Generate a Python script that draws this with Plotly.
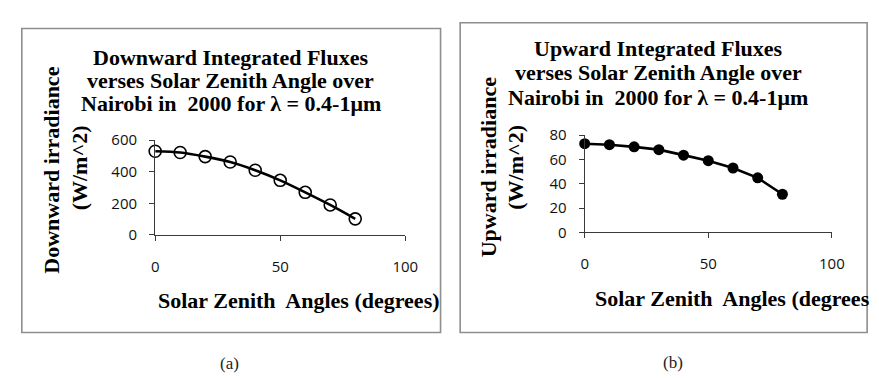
import plotly.graph_objects as go

W, H = 879, 378

# ---- data ----
zenith_angles = [0, 10, 20, 30, 40, 50, 60, 70, 80]
downward_irradiance = [530, 522, 496, 462, 410, 346, 270, 190, 102]
upward_irradiance = [73.0, 72.2, 70.4, 68.1, 63.6, 59.0, 53.0, 44.9, 31.4]

x_ticks = [0, 50, 100]
down_ticks = [0, 200, 400, 600]
up_ticks = [0, 20, 40, 60, 80]

title_a = ["Downward Integrated Fluxes",
           "verses Solar Zenith Angle over",
           "Nairobi in  2000 for λ = 0.4-1μm"]
title_b = ["Upward Integrated Fluxes",
           "verses Solar Zenith Angle over",
           "Nairobi in  2000 for λ = 0.4-1μm"]
ytitle_a = ["Downward irradiance", "(W/m^2)"]
ytitle_b = ["Upward irradiance", "(W/m^2)"]
xtitle_a = "Solar Zenith  Angles (degrees)"
xtitle_b = "Solar Zenith  Angles (degrees"


def px(x):
    return x / W


def py(y):
    return 1 - y / H


fig = go.Figure()

fig.add_trace(go.Scatter(
    x=zenith_angles, y=downward_irradiance, xaxis="x", yaxis="y",
    mode="lines+markers", line=dict(color="black", width=2.6, shape="spline", smoothing=0.8),
    marker=dict(symbol="circle-open", size=12, color="black", line=dict(width=1.6)),
    cliponaxis=False, showlegend=False))

fig.add_trace(go.Scatter(
    x=zenith_angles, y=upward_irradiance, xaxis="x2", yaxis="y2",
    mode="lines+markers", line=dict(color="black", width=2.6),
    marker=dict(symbol="circle", size=11, color="black"),
    cliponaxis=False, showlegend=False))

tickfont = dict(family="Open Sans", size=15, color="#111")
axis_common = dict(showline=True, linecolor="#3a3a3a", linewidth=1.2, ticks="outside",
                   ticklen=5, tickcolor="#3a3a3a", tickwidth=1.2, showgrid=False,
                   zeroline=False, tickfont=tickfont, fixedrange=True)

fig.update_layout(
    width=W, height=H, margin=dict(l=0, r=0, t=0, b=0),
    paper_bgcolor="white", plot_bgcolor="white",
    xaxis=dict(domain=[px(146), px(401)], range=[0, 100], tickvals=x_ticks,
               anchor="y", ticklabelstandoff=13, **axis_common),
    yaxis=dict(domain=[py(228), py(128)], range=[0, 600], tickvals=down_ticks,
               anchor="x", ticklabelstandoff=9, **axis_common),
    xaxis2=dict(domain=[px(584), px(836)], range=[0, 100], tickvals=x_ticks,
                anchor="y2", ticklabelstandoff=13, **axis_common),
    yaxis2=dict(domain=[py(225.3), py(122.7)], range=[0, 80], tickvals=up_ticks,
                anchor="x2", ticklabelstandoff=9, **axis_common),
)

# panel borders
for x0, y0, x1, y1 in [(10, 10, 437, 331), (457, 4, 872, 331)]:
    fig.add_shape(type="rect", xref="paper", yref="paper",
                  x0=px(x0), x1=px(x1), y0=py(y1), y1=py(y0),
                  line=dict(color="#8e8e8e", width=1.6), fillcolor="rgba(0,0,0,0)")

SERIF = "Liberation Serif, Times New Roman, Times, serif"
serif_bold = dict(family=SERIF, size=22, color="black")


def ann(text, x, y, font, angle=0, bold=True, xanchor="center"):
    fig.add_annotation(text=f"<b>{text}</b>" if bold else text,
                       xref="paper", yref="paper", x=px(x), y=py(y),
                       xanchor=xanchor, yanchor="middle", showarrow=False,
                       font=font, textangle=angle)


for line, yy in zip(title_a, [41, 65, 89]):
    ann(line, 223, yy, serif_bold)
for line, yy in zip(title_b, [31, 57, 83]):
    ann(line, 659, yy, serif_bold)

ann(ytitle_a[0], 40, 160, serif_bold, -90)
ann(ytitle_a[1], 69, 157, serif_bold, -90)
ann(ytitle_b[0], 486, 156, serif_bold, -90)
ann(ytitle_b[1], 514, 157, serif_bold, -90)

ann(xtitle_a, 293, 297, serif_bold)
ann(xtitle_b, 592, 295, serif_bold, xanchor="left")

label_font = dict(family=SERIF, size=17, color="#222")
ann("(a)", 222, 364, label_font, bold=False)
ann("(b)", 674, 363, label_font, bold=False)

fig.write_html("out.html")
